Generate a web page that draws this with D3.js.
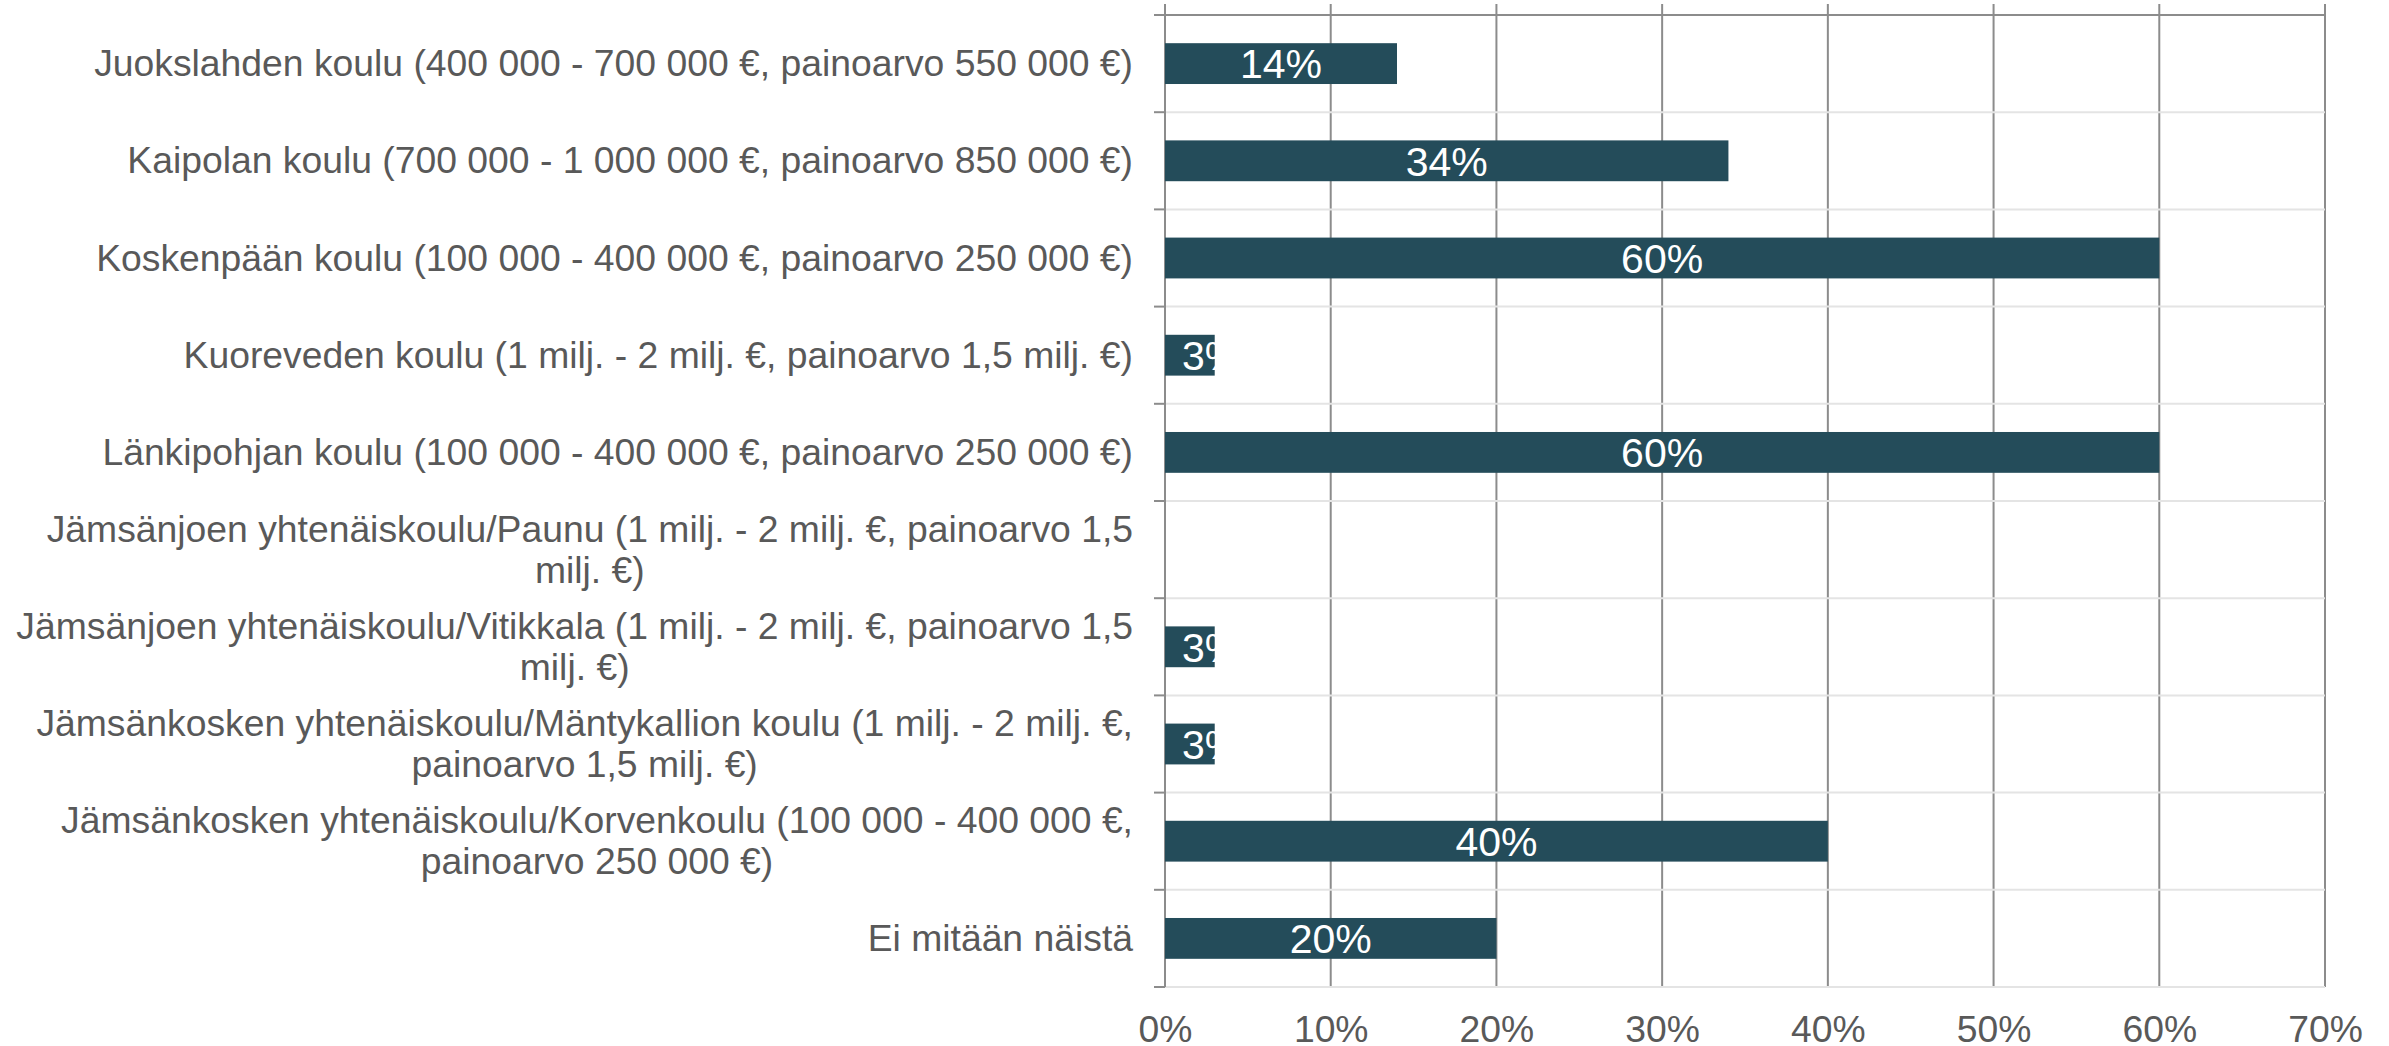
<!DOCTYPE html>
<html>
<head>
<meta charset="utf-8">
<script src="https://cdn.jsdelivr.net/npm/d3@7"></script>
<style>
  body { margin: 0; background: #fff; }
  text { font-family: "Liberation Sans", Arial, sans-serif; }
</style>
</head>
<body>
<div id="chart"></div>
<script>
//////////////////////////////////////////////////////////////////////////////
// Data

var categories = [
    "Juokslahden koulu",
    "Kaipolan koulu",
    "Koskenpään koulu",
    "Kuoreveden koulu",
    "Länkipohjan koulu",
    "Jämsänjoen yhtenäiskoulu/Paunu",
    "Jämsänjoen yhtenäiskoulu/Vitikkala",
    "Jämsänkosken yhtenäiskoulu/Mäntykallion koulu",
    "Jämsänkosken yhtenäiskoulu/Korvenkoulu",
    "Ei mitään näistä"
];

var labelLines = [
    ["Juokslahden koulu (400 000 - 700 000 €, painoarvo 550 000 €)"],
    ["Kaipolan koulu (700 000 - 1 000 000 €, painoarvo 850 000 €)"],
    ["Koskenpään koulu (100 000 - 400 000 €, painoarvo 250 000 €)"],
    ["Kuoreveden koulu (1 milj. - 2 milj. €, painoarvo 1,5 milj. €)"],
    ["Länkipohjan koulu (100 000 - 400 000 €, painoarvo 250 000 €)"],
    ["Jämsänjoen yhtenäiskoulu/Paunu (1 milj. - 2 milj. €, painoarvo 1,5", "milj. €)"],
    ["Jämsänjoen yhtenäiskoulu/Vitikkala (1 milj. - 2 milj. €, painoarvo 1,5", "milj. €)"],
    ["Jämsänkosken yhtenäiskoulu/Mäntykallion koulu (1 milj. - 2 milj. €,", "painoarvo 1,5 milj. €)"],
    ["Jämsänkosken yhtenäiskoulu/Korvenkoulu (100 000 - 400 000 €,", "painoarvo 250 000 €)"],
    ["Ei mitään näistä"]
];

var values = [14, 34, 60, 3, 60, 0, 3, 3, 40, 20];

var xTicks = [0, 10, 20, 30, 40, 50, 60, 70];

//////////////////////////////////////////////////////////////////////////////
// Layout

var width = 2389, height = 1046;
var textColor = "#595959";
var barColor = "#244c5a";
var labelRight = 1133;
var labelFont = 37.3, valueFont = 41;

var xScale = d3.scaleLinear().domain([0, 70]).range([1165, 2325]);
var yScale = d3.scaleBand().domain(categories).range([15, 987])
    .paddingInner(0.58).paddingOuter(0.29);
var step = yScale.step();

var data = categories.map(function(c, i) {
    return {name: c, value: values[i], lines: labelLines[i]};
});

var svg = d3.select("#chart")
    .append("svg")
    .attr("width", width)
    .attr("height", height);

// vertical gridlines
svg.append("g")
    .selectAll("line")
    .data(xTicks)
    .enter()
    .append("line")
    .attr("x1", function(d) { return xScale(d); })
    .attr("x2", function(d) { return xScale(d); })
    .attr("y1", 4)
    .attr("y2", yScale.range()[1])
    .attr("stroke", "#8c8c8c")
    .attr("stroke-width", 2);

// horizontal gridlines at the category boundaries
var bounds = d3.range(categories.length + 1);
svg.append("g")
    .selectAll("line")
    .data(bounds)
    .enter()
    .append("line")
    .attr("x1", xScale(0))
    .attr("x2", xScale(70))
    .attr("y1", function(d) { return yScale.range()[0] + d * step; })
    .attr("y2", function(d) { return yScale.range()[0] + d * step; })
    .attr("stroke", function(d) { return d === 0 ? "#8c8c8c" : "#e4e4e4"; })
    .attr("stroke-width", 2);

// left axis line + ticks
svg.append("line")
    .attr("x1", xScale(0)).attr("x2", xScale(0))
    .attr("y1", 4).attr("y2", yScale.range()[1])
    .attr("stroke", "#8c8c8c").attr("stroke-width", 2);

svg.append("g")
    .selectAll("line")
    .data(bounds)
    .enter()
    .append("line")
    .attr("x1", xScale(0) - 11)
    .attr("x2", xScale(0))
    .attr("y1", function(d) { return yScale.range()[0] + d * step; })
    .attr("y2", function(d) { return yScale.range()[0] + d * step; })
    .attr("stroke", "#8c8c8c")
    .attr("stroke-width", 2);

// bars
svg.append("g")
    .selectAll("rect")
    .data(data.filter(function(d) { return d.value > 0; }))
    .enter()
    .append("rect")
    .attr("x", xScale(0))
    .attr("y", function(d) { return yScale(d.name); })
    .attr("width", function(d) { return xScale(d.value) - xScale(0); })
    .attr("height", yScale.bandwidth())
    .attr("fill", barColor);

// value labels (white, centred; pushed right when the bar is too short)
svg.append("g")
    .selectAll("text")
    .data(data.filter(function(d) { return d.value > 0; }))
    .enter()
    .append("text")
    .attr("y", function(d) { return yScale(d.name) + yScale.bandwidth() / 2; })
    .attr("dy", "0.36em")
    .attr("text-anchor", "middle")
    .attr("fill", "#ffffff")
    .style("font-size", valueFont + "px")
    .text(function(d) { return d.value + "%"; })
    .attr("x", function(d) {
        var w = this.getComputedTextLength();
        var c = (xScale(0) + xScale(d.value)) / 2;
        return Math.max(c, xScale(0) + 17 + w / 2);
    });

// category labels: block right-aligned to the axis, wrapped lines centred in it
var lineH = 41;
var cat = svg.append("g")
    .selectAll("g")
    .data(data)
    .enter()
    .append("g")
    .attr("transform", function(d) {
        var cy = yScale(d.name) + yScale.bandwidth() / 2;
        return "translate(0," + (cy - (d.lines.length - 1) * lineH / 2) + ")";
    });

cat.each(function(d) {
    var g = d3.select(this);
    var first = g.append("text")
        .attr("x", labelRight)
        .attr("y", 0)
        .attr("dy", "0.34em")
        .attr("text-anchor", "end")
        .attr("fill", textColor)
        .style("font-size", labelFont + "px")
        .text(d.lines[0]);
    var w = first.node().getComputedTextLength();
    d.lines.slice(1).forEach(function(line, i) {
        g.append("text")
            .attr("x", labelRight - w / 2)
            .attr("y", (i + 1) * lineH)
            .attr("dy", "0.34em")
            .attr("text-anchor", "middle")
            .attr("fill", textColor)
            .style("font-size", labelFont + "px")
            .text(line);
    });
});

// x axis labels
var xAxis = svg.append("g")
    .attr("transform", "translate(0," + yScale.range()[1] + ")")
    .call(d3.axisBottom(xScale).tickValues(xTicks).tickSize(0).tickPadding(29)
        .tickFormat(function(d) { return d + "%"; }));
xAxis.select(".domain").remove();
xAxis.selectAll("text")
    .attr("fill", textColor)
    .style("font-size", labelFont + "px")
    .style("font-family", "'Liberation Sans', Arial, sans-serif");
</script>
</body>
</html>
